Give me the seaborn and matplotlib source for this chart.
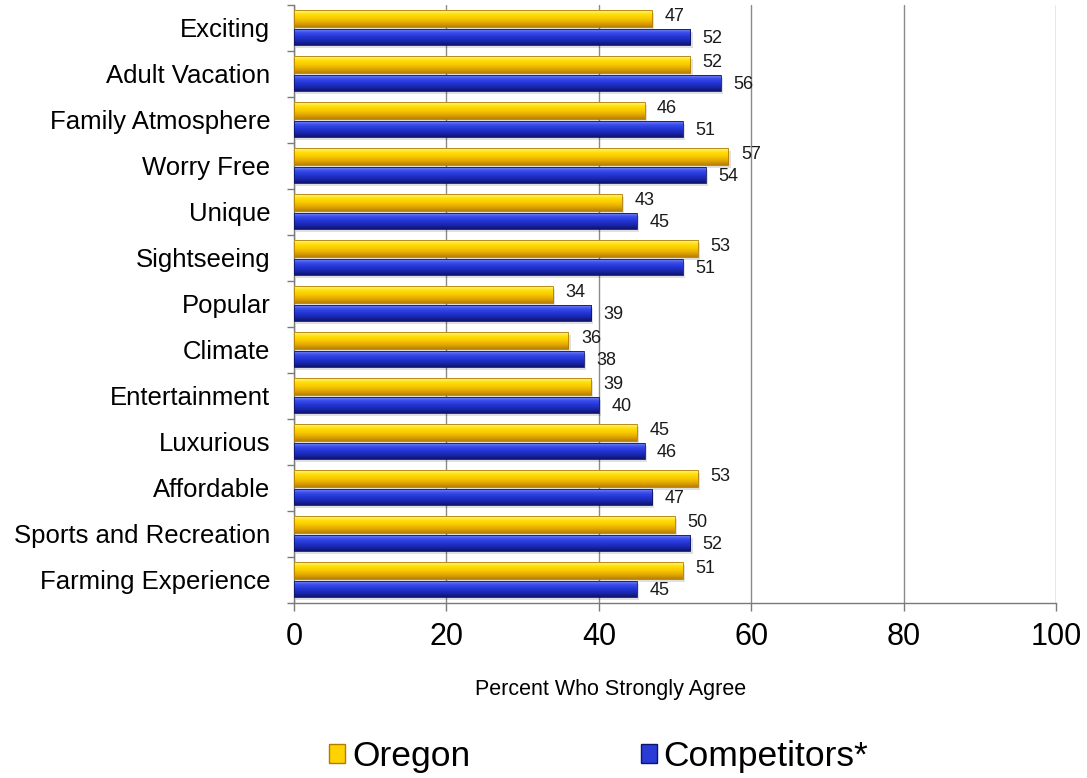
import numpy as np
import pandas as pd
import seaborn as sns
import matplotlib.pyplot as plt
from matplotlib.patches import Patch, Rectangle
from matplotlib.colors import LinearSegmentedColormap
from matplotlib.ticker import FixedLocator

categories = ["Exciting", "Adult Vacation", "Family Atmosphere", "Worry Free", "Unique",
              "Sightseeing", "Popular", "Climate", "Entertainment", "Luxurious",
              "Affordable", "Sports and Recreation", "Farming Experience"]
oregon = [47, 52, 46, 57, 43, 53, 34, 36, 39, 45, 53, 50, 51]
competitors = [52, 56, 51, 54, 45, 51, 39, 38, 40, 46, 47, 52, 45]
series_names = ["Oregon", "Competitors*"]
x_ticks = [0, 20, 40, 60, 80, 100]

df = pd.DataFrame({
    "Attribute": categories * 2,
    "Percent": oregon + competitors,
    "Group": [series_names[0]] * len(categories) + [series_names[1]] * len(categories),
})

sns.set_theme(style="white")
plt.rcParams["font.family"] = ["Liberation Sans", "DejaVu Sans"]
plt.rcParams["text.color"] = "black"
plt.rcParams["xtick.labelcolor"] = "black"
plt.rcParams["ytick.labelcolor"] = "black"
plt.rcParams["axes.labelcolor"] = "black"

fig = plt.figure(figsize=(10.87, 7.78), dpi=100)
ax = fig.add_axes([0.2705, 0.225, 0.701, 0.7686])

base = {"Oregon": "#F7C800", "Competitors*": "#2A3CD6"}
sns.barplot(data=df, y="Attribute", x="Percent", hue="Group", order=categories,
            hue_order=series_names, palette=base, width=0.8, orient="h",
            legend=False, ax=ax, zorder=3)

# bevelled gradient fill for each bar
grads = {
    "Oregon": LinearSegmentedColormap.from_list(
        "og", ["#FFF3A0", "#FFE000", "#F8C800", "#E2A800", "#B88000"]),
    "Competitors*": LinearSegmentedColormap.from_list(
        "cg", ["#8A98F8", "#3C50EC", "#2436D8", "#1A28B0", "#0E1470"]),
}
edges = {"Oregon": "#B07C00", "Competitors*": "#0E1466"}
grad = np.linspace(0, 1, 64).reshape(-1, 1)

n = len(categories)
bars = [p for p in ax.patches][: 2 * n]
for i, p in enumerate(bars):
    grp = series_names[i // n]
    y0 = p.get_y()
    h = p.get_height()
    pad = h * 0.05
    p.set_y(y0 + pad)
    p.set_height(h - 2 * pad)
    p.set_facecolor("none")
    p.set_edgecolor(edges[grp])
    p.set_linewidth(0.6)
    x0, w = p.get_x(), p.get_width()
    # soft drop shadow under the bar
    ax.add_patch(Rectangle((x0 + 0.3, p.get_y() + 0.06), w, p.get_height(),
                           facecolor="#000000", alpha=0.12, edgecolor="none",
                           zorder=2.5))
    im = ax.imshow(grad, cmap=grads[grp], aspect="auto",
                   extent=[x0, x0 + w, p.get_y() + p.get_height(), p.get_y()],
                   zorder=2.9, interpolation="bicubic")
    im.set_clip_path(p)

    # value label next to the bar end
    val = (oregon if i < n else competitors)[i % n]
    dy = 1.5 if i < n else -1.0
    ax.annotate(f"{val}", xy=(x0 + w, p.get_y() + p.get_height() / 2),
                xytext=(9, dy), textcoords="offset points",
                ha="left", va="center", fontsize=13, color="#1a1a1a", zorder=5)

ax.set_xlim(0, 100)
ax.set_ylim(n - 0.5, -0.5)

ax.xaxis.set_major_locator(FixedLocator(x_ticks))
ax.set_xticklabels([str(t) for t in x_ticks], fontsize=22)
ax.grid(axis="x", color="#8a8a8a", linewidth=1, zorder=0)
ax.grid(axis="y", visible=False)

ax.yaxis.set_minor_locator(FixedLocator(np.arange(-0.5, n, 1)))
ax.tick_params(axis="y", which="major", length=0, labelsize=18.5, pad=17)
ax.tick_params(axis="y", which="minor", length=5, color="#7a7a7a", width=1, left=True)
ax.tick_params(axis="x", which="major", length=6, color="#7a7a7a", width=1,
               bottom=True, pad=8)

for s in ["top", "right"]:
    ax.spines[s].set_visible(False)
for s in ["left", "bottom"]:
    ax.spines[s].set_color("#7a7a7a")
    ax.spines[s].set_linewidth(1)

ax.set_ylabel("")
ax.set_xlabel("Percent Who Strongly Agree", fontsize=15.5)
ax.xaxis.set_label_coords(0.415, -0.128)

handles = [Patch(facecolor="#FFD200", edgecolor=edges["Oregon"]),
           Patch(facecolor="#2A3CD6", edgecolor=edges["Competitors*"])]
fig.legend(handles, series_names, loc="center", bbox_to_anchor=(0.551, 0.027),
           ncol=2, frameon=False, fontsize=25.5, handlelength=0.45, handleheight=0.45,
           handletextpad=0.2, columnspacing=4.8)

fig.savefig("out.png", dpi=100)
